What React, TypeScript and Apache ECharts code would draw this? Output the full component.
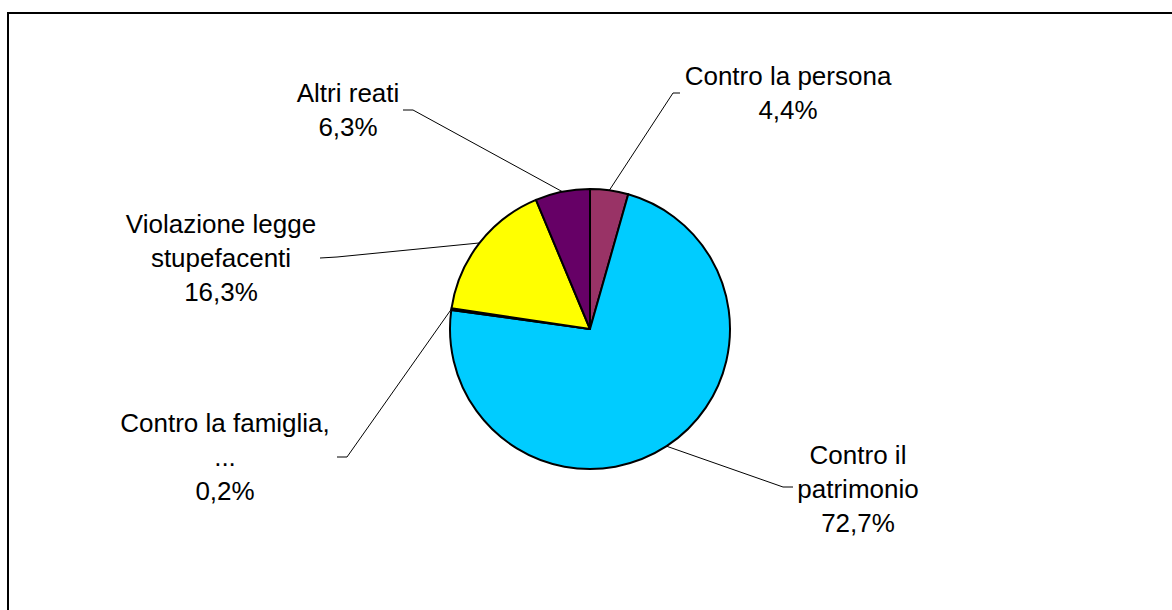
import React, { useEffect, useRef } from 'react';
import * as echarts from 'echarts';

const categories = [
  'Contro la persona',
  'Contro il patrimonio',
  'Contro la famiglia, ...',
  'Violazione legge stupefacenti',
  'Altri reati',
];
const labelTexts = [
  'Contro la persona',
  'Contro il\npatrimonio',
  'Contro la famiglia,\n...',
  'Violazione legge\nstupefacenti',
  'Altri reati',
];
const values = [4.4, 72.7, 0.2, 16.3, 6.3];
const colors = ['#993366', '#00CCFF', '#FFFFCC', '#FFFF00', '#660066'];

// label layout (centre of each label block, and label-line elbow/end)
const labelPos = [
  [788, 93],
  [858, 489],
  [225, 457],
  [221, 258],
  [348, 110],
];
const lineElbows = [
  [[673, 93], [680, 93]],
  [[783, 487], [793, 487]],
  [[347, 457], [337, 457]],
  [[337, 257], [320, 258]],
  [[413, 110], [403, 110]],
];

export default function App() {
  const ref = useRef<HTMLDivElement>(null);
  useEffect(() => {
    document.body.style.margin = '0';
    document.body.style.overflow = 'hidden';
    if (!ref.current) return;
    const chart = echarts.init(ref.current, null, { renderer: 'svg' });
    chart.setOption({
      animation: false,
      backgroundColor: '#ffffff',
      graphic: [
        {
          type: 'rect',
          shape: { x: 8, y: 13, width: 1300, height: 800 },
          style: { fill: 'none', stroke: '#000', lineWidth: 2 },
          silent: true,
          z: -1,
        },
      ],
      series: [
        {
          type: 'pie',
          center: [590, 329],
          radius: 140,
          startAngle: 90,
          clockwise: true,
          avoidLabelOverlap: false,
          data: categories.map((c, i) => ({
            name: c,
            value: values[i],
            itemStyle: { color: colors[i] },
          })),
          itemStyle: { borderColor: '#000', borderWidth: 2 },
          label: {
            show: true,
            position: 'outside',
            formatter: (p: any) =>
              labelTexts[p.dataIndex] + '\n' + values[p.dataIndex].toFixed(1).replace('.', ',') + '%',
            fontFamily: 'Liberation Sans, Arial, sans-serif',
            fontSize: 26,
            lineHeight: 34,
            color: '#000',
            align: 'center',
          },
          labelLine: {
            show: true,
            length: 15,
            length2: 15,
            lineStyle: { color: '#000', width: 1 },
          },
          emphasis: { disabled: true },
          labelLayout: (params: any) => {
            const i = params.dataIndex;
            const p0 = params.labelLinePoints ? params.labelLinePoints[0] : [590, 329];
            return {
              x: labelPos[i][0],
              y: labelPos[i][1],
              align: 'center',
              verticalAlign: 'middle',
              labelLinePoints: [p0, lineElbows[i][0], lineElbows[i][1]],
            };
          },
        },
      ],
    });
    return () => chart.dispose();
  }, []);
  return <div ref={ref} style={{ width: 1172, height: 610 }} />;
}
